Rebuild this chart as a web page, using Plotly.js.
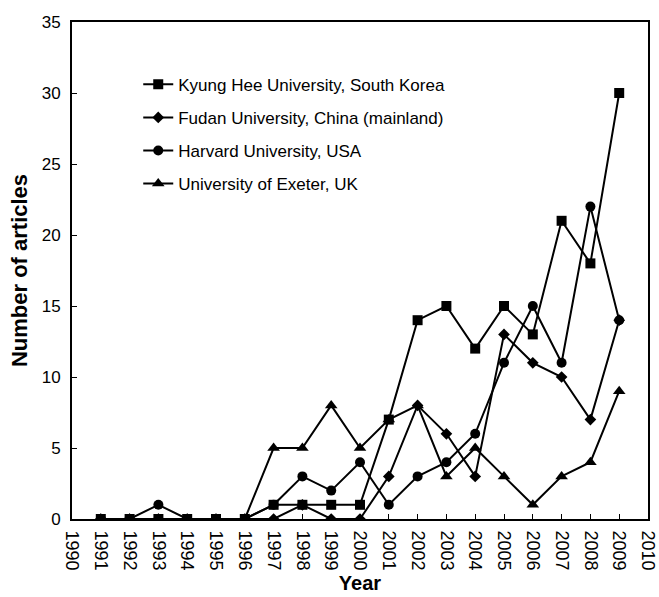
<!DOCTYPE html>
<html>
<head>
<meta charset="utf-8">
<script src="https://cdn.plot.ly/plotly-3.0.1.min.js"></script>
<style>html,body{margin:0;padding:0;background:#fff;}#chart{width:659px;height:597px;}</style>
</head>
<body>
<div id="chart"></div>
<script>
const years = [1991,1992,1993,1994,1995,1996,1997,1998,1999,2000,2001,2002,2003,2004,2005,2006,2007,2008,2009];
const kyungHee = [0,0,0,0,0,0,1,1,1,1,7,14,15,12,15,13,21,18,30];
const fudan    = [0,0,0,0,0,0,0,1,0,0,3,8,6,3,13,11,10,7,14];
const harvard  = [0,0,1,0,0,0,1,3,2,4,1,3,4,6,11,15,11,22,14];
const exeter   = [0,0,0,0,0,0,5,5,8,5,7,8,3,5,3,1,3,4,9];
const seriesNames = ["Kyung Hee University, South Korea","Fudan University, China (mainland)","Harvard University, USA","University of Exeter, UK"];
const xTicks = [1990,1991,1992,1993,1994,1995,1996,1997,1998,1999,2000,2001,2002,2003,2004,2005,2006,2007,2008,2009,2010];

const FONT = "Liberation Sans, Arial, sans-serif";
const symbols = ["square","diamond","circle","triangle-up"];
const sizes = [10,9,10,11];
const data = [kyungHee, fudan, harvard, exeter].map((vals,i)=>({
  x: years, y: vals, name: seriesNames[i], type: "scatter", mode: "lines+markers",
  legendgroup: "g"+i,
  line: {color: "#000", width: 2},
  marker: {symbol: symbols[i], size: sizes[i], color: "#000"}
}));

const layout = {
  width: 659, height: 597,
  margin: {l: 72, r: 11, t: 22, b: 78},
  paper_bgcolor: "#fff", plot_bgcolor: "#fff",
  font: {family: FONT, color: "#000", size: 16},
  showlegend: true,
  legend: {x: 0.115, y: 0.91, xanchor: "left", yanchor: "top", bgcolor: "rgba(0,0,0,0)",
           font: {family: FONT, size: 17, color: "#000"}, tracegroupgap: 8},
  xaxis: {
    range: [1990, 2010], tickvals: xTicks, ticktext: xTicks.map(String),
    tickangle: 90, ticks: "inside", ticklen: 5, tickcolor: "#000",
    showline: true, linecolor: "#000", linewidth: 2, mirror: true,
    showgrid: false, zeroline: false, ticklabelstandoff: 6,
    tickfont: {family: FONT, size: 18, color: "#000"},
    title: {text: "Year", font: {family: FONT, size: 20, color: "#000", weight: "bold"}, standoff: 6}
  },
  yaxis: {
    range: [0, 35], dtick: 5, ticks: "inside", ticklen: 5, tickcolor: "#000",
    showline: true, linecolor: "#000", linewidth: 2, mirror: true,
    showgrid: false, zeroline: false, ticklabelstandoff: 6,
    tickfont: {family: FONT, size: 17, color: "#000"},
    title: {text: "Number of articles", font: {family: FONT, size: 22, color: "#000", weight: "bold"}, standoff: 8}
  }
};

Plotly.newPlot("chart", data, layout, {displayModeBar: false, staticPlot: true});
</script>
</body>
</html>
